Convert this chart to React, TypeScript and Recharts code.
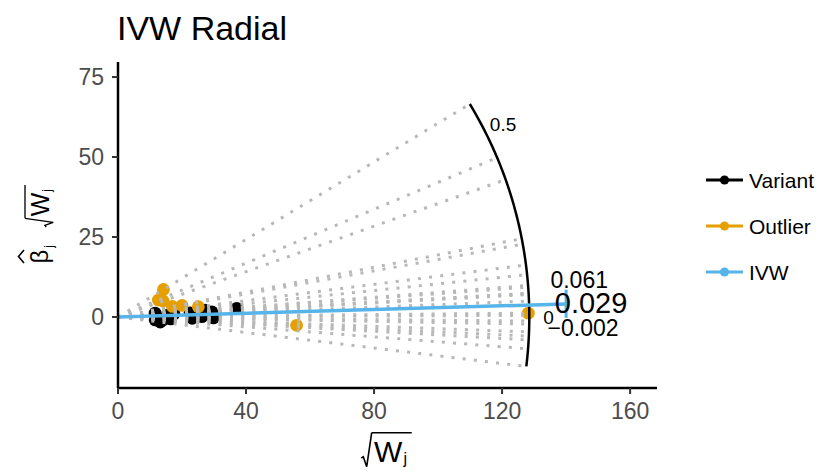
import React from 'react';
import {
  ComposedChart,
  Line,
  Scatter,
  XAxis,
  YAxis,
  Legend,
  ReferenceDot,
  Customized,
} from 'recharts';

// ---- data ----
const variantX = [11.6, 11.6, 13.2, 14.3, 15.5, 16.5, 17.5, 22.5, 23.2, 26.2, 27.3, 29.3, 29.8, 37.1];
const variantY = [1.2, -0.9, -1.6, -0.8, 0.6, -0.6, 1.0, 1.3, -0.4, 0.1, 2.1, 1.6, -0.3, 2.7];
const outlierX = [14.2, 12.6, 14.1, 17.0, 20.0, 25.1, 55.8, 128.2];
const outlierY = [8.6, 5.3, 5.0, 3.3, 3.6, 3.2, -2.6, 1.2];

const ivwEstimate = 0.029;
const ivwLower = -0.002;
const ivwUpper = 0.061;
const ivwLabels = ['0.061', '0.029', '\u22120.002'];
const scaleLabelValues = [0.5, 0];
const scaleLabelTexts = ['0.5', '0'];

const xTicks = [0, 40, 80, 120, 160];
const yTicks = [0, 25, 50, 75];
const legendNames = ['Variant', 'Outlier', 'IVW'];
const legendColors = ['#000000', '#E69F00', '#56B4E9'];

// ---- geometry / style settings ----
const ARC_R = 128.5;
const LABEL_R = 134.5;
const IVW_LEN = 140;
const FONT = '"Liberation Sans", Arial, Helvetica, sans-serif';
const BLACK = '#000000';
const ORANGE = '#E69F00';
const BLUE = '#56B4E9';
const GRAY = '#b8b8b8';

const variantData = variantX.map((x, i) => ({ x, y: variantY[i] }));
const outlierData = outlierX.map((x, i) => ({ x, y: outlierY[i] }));
const allPoints = [...variantData, ...outlierData];
const ratios = allPoints.map((p) => p.y / p.x);

const rays = ratios.map((r) => {
  const t = Math.atan(r);
  return [
    { x: 0, y: 0 },
    { x: ARC_R * Math.cos(t), y: ARC_R * Math.sin(t) },
  ];
});

const tMin = Math.atan(Math.min(...ratios));
const tMax = Math.atan(Math.max(...ratios));
const arcData: { x: number; y: number }[] = [];
for (let i = 0; i <= 80; i++) {
  const t = tMax - ((tMax - tMin) * i) / 80;
  arcData.push({ x: ARC_R * Math.cos(t), y: ARC_R * Math.sin(t) });
}

const ivwLine = [
  { x: 0, y: 0 },
  { x: IVW_LEN, y: IVW_LEN * ivwEstimate },
];
const ivwCI = [
  { x: IVW_LEN, y: IVW_LEN * ivwLower },
  { x: IVW_LEN, y: IVW_LEN * ivwUpper },
];

// annotation placement (offsets from IVW end, data units)
const ivwLabelPos = [
  { x: IVW_LEN + 4.1, y: IVW_LEN * ivwUpper + 3.1, size: 23 },
  { x: IVW_LEN + 7.8, y: IVW_LEN * ivwEstimate + 0.3, size: 29 },
  { x: IVW_LEN + 5.3, y: IVW_LEN * ivwLower - 3.1, size: 23 },
];

const Dot6 = (color: string) => (p: any) =>
  p.cx == null ? <g /> : <circle cx={p.cx} cy={p.cy} r={6.4} fill={color} />;

const RadicalW = ({ transform }: { transform: string }) => (
  <g transform={transform} fontFamily={FONT} fill={BLACK}>
    <path d="M0,0 H40" stroke={BLACK} strokeWidth={1.6} fill="none" />
    <path d="M0,0 L-5,34 L-8.4,24 L-10.5,25.5" stroke={BLACK} strokeWidth={1.6} fill="none" />
    <text x={16.5} y={29} textAnchor="middle" fontSize={30}>W</text>
    <text x={33.5} y={31} textAnchor="middle" fontSize={16}>j</text>
  </g>
);

const Decorations = () => (
  <g>
    <text x={117} y={40} fontSize={34} fontFamily={FONT} fill={BLACK}>IVW Radial</text>
    {/* x axis title */}
    <RadicalW transform="translate(371.7,432.7)" />
    {/* y axis title */}
    <RadicalW transform="translate(25,218.3) rotate(-90) scale(0.83)" />
    <text
      transform="translate(48,256.5) rotate(-90)"
      textAnchor="middle"
      fontSize={24}
      fontFamily={FONT}
      fill={BLACK}
    >
      β
    </text>
    <text
      transform="translate(53,246.5) rotate(-90)"
      textAnchor="middle"
      fontSize={12}
      fontFamily={FONT}
      fill={BLACK}
    >
      j
    </text>
    <path d="M24,250 L18.5,256.5 L24,263" stroke={BLACK} strokeWidth={1.6} fill="none" />
  </g>
);

const LegendBox = () => (
  <svg width={128} height={140}>
    {legendNames.map((name, i) => {
      const cy = 25 + 46 * i;
      return (
        <g key={name}>
          <line x1={6} x2={43} y1={cy} y2={cy} stroke={legendColors[i]} strokeWidth={2.8} />
          <circle cx={24.5} cy={cy} r={4.6} fill={legendColors[i]} />
          <text x={49} y={cy + 7.6} fontSize={21} fontFamily={FONT} fill={BLACK}>
            {name}
          </text>
        </g>
      );
    })}
  </svg>
);

export default function App() {
  return (
    <div style={{ position: 'absolute', left: 0, top: 0, width: 828, height: 473, background: '#fff' }}>
      <ComposedChart
        width={828}
        height={473}
        margin={{ top: 62, right: 171, bottom: 55, left: 68 }}
      >
        <XAxis
          type="number"
          dataKey="x"
          domain={[0, 168.4]}
          ticks={xTicks}
          allowDataOverflow
          height={30}
          axisLine={{ stroke: BLACK, strokeWidth: 2.5 }}
          tickLine={{ stroke: '#333', strokeWidth: 2 }}
          tickSize={6}
          tickMargin={9}
          tick={{ fill: '#4d4d4d', fontSize: 23, fontFamily: FONT }}
        />
        <YAxis
          type="number"
          dataKey="y"
          domain={[-22.2, 79.7]}
          ticks={yTicks}
          allowDataOverflow
          width={50}
          axisLine={{ stroke: BLACK, strokeWidth: 2.5 }}
          tickLine={{ stroke: '#333', strokeWidth: 2 }}
          tickSize={6}
          tickMargin={8}
          tick={{ fill: '#4d4d4d', fontSize: 23, fontFamily: FONT }}
        />
        <Scatter
          name="Variant"
          data={variantData}
          fill={BLACK}
          shape={Dot6(BLACK)}
          isAnimationActive={false}
          legendType="none"
          zIndex={100}
        />
        <Scatter
          name="Outlier"
          data={outlierData}
          fill={ORANGE}
          shape={Dot6(ORANGE)}
          isAnimationActive={false}
          legendType="none"
          zIndex={110}
        />
        {rays.map((ray, i) => (
          <Line
            key={'ray' + i}
            data={ray}
            dataKey="y"
            type="linear"
            stroke={GRAY}
            strokeWidth={3}
            strokeDasharray="3 8.2"
            dot={false}
            activeDot={false}
            isAnimationActive={false}
            legendType="none"
            zIndex={200}
          />
        ))}
        <Line
          data={arcData}
          dataKey="y"
          type="linear"
          stroke={BLACK}
          strokeWidth={2.5}
          dot={false}
          activeDot={false}
          isAnimationActive={false}
          legendType="none"
          zIndex={300}
        />
        <Line
          data={ivwLine}
          dataKey="y"
          type="linear"
          stroke={BLUE}
          strokeWidth={3.5}
          dot={false}
          activeDot={false}
          isAnimationActive={false}
          legendType="none"
          zIndex={400}
        />
        <Line
          data={ivwCI}
          dataKey="y"
          type="linear"
          stroke={BLUE}
          strokeWidth={3}
          dot={false}
          activeDot={false}
          isAnimationActive={false}
          legendType="none"
          zIndex={400}
        />
        {scaleLabelValues.map((v, i) => {
          const t = Math.atan(v);
          return (
            <ReferenceDot
              key={'sl' + i}
              x={LABEL_R * Math.cos(t)}
              y={LABEL_R * Math.sin(t)}
              r={0}
              fill="none"
              stroke="none"
              ifOverflow="visible"
              zIndex={500}
              label={{
                value: scaleLabelTexts[i],
                position: 'center',
                fill: BLACK,
                fontSize: 19,
                fontFamily: FONT,
              }}
            />
          );
        })}
        {ivwLabels.map((txt, i) => (
          <ReferenceDot
            key={'il' + i}
            x={ivwLabelPos[i].x}
            y={ivwLabelPos[i].y}
            r={0}
            fill="none"
            stroke="none"
            ifOverflow="visible"
            zIndex={500}
            label={{
              value: txt,
              position: 'center',
              fill: BLACK,
              fontSize: ivwLabelPos[i].size,
              fontFamily: FONT,
            }}
          />
        ))}
        <Customized component={Decorations} />
        <Legend
          layout="vertical"
          align="center"
          verticalAlign="middle"
          wrapperStyle={{ left: 700, top: 155, width: 128, height: 140 }}
          content={() => <LegendBox />}
        />
      </ComposedChart>
    </div>
  );
}
